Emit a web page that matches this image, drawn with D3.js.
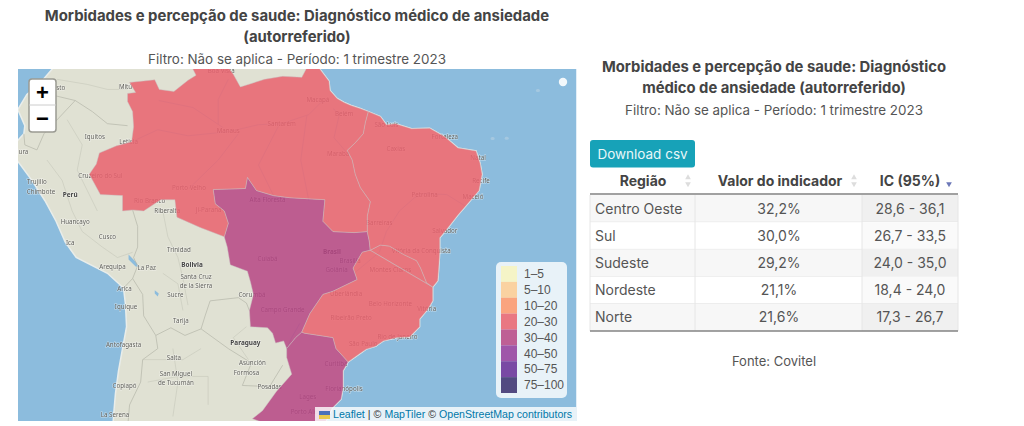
<!DOCTYPE html>
<html lang="pt">
<head>
<meta charset="utf-8">
<title>Diagnóstico médico de ansiedade</title>
<script src="https://cdn.jsdelivr.net/npm/d3@7"></script>
<style>
  html, body { margin: 0; padding: 0; background: #fff; }
  svg { display: block; font-family: Inter, "Noto Sans", sans-serif; }
  .map-label { font-family: "Noto Sans", sans-serif; font-size: 6.2px; fill: #5f5f5a; text-anchor: middle;
    stroke: #fff; stroke-width: 1.2px; stroke-opacity: .45; paint-order: stroke; }
  .map-label.country { font-weight: 700; font-size: 6.4px; fill: #444; }
</style>
</head>
<body>
<svg id="chart" width="1024" height="426"></svg>
<script>
// indicador por região
const regioes = ['Centro Oeste', 'Sul', 'Sudeste', 'Nordeste', 'Norte'];
const valores = [32.2, 30.0, 29.2, 21.1, 21.6];
const icInferior = [28.6, 26.7, 24.0, 18.4, 17.3];
const icSuperior = [36.1, 33.5, 35.0, 24.0, 26.7];

// legenda
const faixas = ['1–5', '5–10', '10–20', '20–30', '30–40', '40–50', '50–75', '75–100'];
const limites = [5, 10, 20, 30, 40, 50, 75];
const cores = ['#f7f5be', '#fdcd92', '#fd976a', '#e9616d', '#b64584', '#923b9b', '#652c95', '#372d6c'];

// contornos em lon/lat
const norteOeste = [[-73.8,-7.4],[-73.1,-6.4],[-72.8,-5.3],[-71.1,-4.6],[-69.6,-4.2],[-69.4,-2.7],[-69.5,-1.2],[-70,-0.2],[-70,0.6],[-69.2,0.7],[-69.8,1.7],[-67.3,1.95],[-66.85,1],[-65.4,0.8],[-64,1.9],[-63.2,2.4],[-64,4],[-64.2,4.2],[-61,5.2],[-60,5.1],[-60,3.2],[-59.5,2.5],[-58.8,1.25],[-56.4,2],[-54.6,2.3],[-52.7,2.2],[-51.7,4.1],[-51.2,4.3]];
const costaNorte = [[-51.2,4.3],[-50.9,3],[-50,1.8],[-49.9,0.9],[-49.2,0.1],[-48.5,-0.3],[-47.8,-0.6],[-46.9,-0.9],[-46.1,-1.2]];
const limiteNorteNordeste = [[-46.1,-1.2],[-46.4,-2.3],[-46.6,-3.4],[-47.4,-4.3],[-48.2,-5.05],[-47.7,-6],[-47.4,-7.4],[-46.9,-8.7],[-45.9,-10.1],[-46.2,-11.5],[-46.2,-13]];
const limiteNorteCentroOeste = [[-46.2,-13],[-47.5,-13.1],[-49.6,-13],[-50.6,-12],[-50.4,-9.9],[-53.9,-9.7],[-55.5,-9.5],[-57.2,-9],[-58.1,-7.7],[-58.3,-8.8],[-61.5,-8.9],[-61.3,-10.3],[-60.4,-11],[-60,-12.2],[-60.4,-13.5]];
const norteSudoeste = [[-60.4,-13.5],[-62.8,-12.6],[-65.1,-11.6],[-65.3,-9.9],[-66.7,-9.9],[-68.4,-11],[-69.5,-10.9],[-70.5,-11],[-70.5,-9.5],[-72.7,-9.4],[-73.8,-7.4]];
const costaNordeste = [[-46.1,-1.2],[-44.9,-1.7],[-44.3,-2.5],[-43.4,-2.4],[-41.8,-2.9],[-40,-2.85],[-38.5,-3.7],[-37.2,-4.8],[-35.4,-5.1],[-35,-6.3],[-34.8,-7.4],[-35.1,-9],[-36.4,-10.5],[-37.2,-11.4],[-38.4,-12.9],[-39,-13.6],[-39,-15],[-39.1,-16.5],[-39.2,-17.7],[-39.7,-18.3]];
const limiteNordesteSudeste = [[-39.7,-18.3],[-40.3,-17.9],[-40.9,-16.5],[-41.3,-15.8],[-42.6,-15.2],[-44,-14.4],[-44.9,-14.3],[-45.9,-14.8]];
const limiteNordesteCentroOeste = [[-45.9,-14.8],[-46,-13.9],[-46.2,-13]];
const limiteCentroOesteSudeste = [[-45.9,-14.8],[-46.7,-15],[-47.6,-16.5],[-47.2,-17.6],[-49.6,-18.7],[-50.6,-19],[-51.9,-20.8],[-52.7,-22.5]];
const costaSudeste = [[-39.7,-18.3],[-39.7,-19.6],[-40.2,-20.4],[-41,-21.3],[-41,-22],[-42,-22.95],[-43.2,-23],[-44.6,-23.3],[-45.4,-23.8],[-46.3,-24.05],[-47,-24.5],[-48.1,-25.2]];
const limiteSudesteSul = [[-52.7,-22.5],[-52.4,-22.6],[-50.6,-22.85],[-49.6,-23],[-49.3,-24],[-48.6,-24.7],[-48.1,-25.2]];
const costaSul = [[-48.1,-25.2],[-48.6,-26],[-48.6,-27.5],[-48.8,-28.5],[-49.7,-29.3],[-50.3,-30.4],[-51.3,-31.8],[-52.5,-33]];
const sulOeste = [[-52.5,-33],[-53.4,-33.7],[-55,-31],[-57.6,-30.2],[-56.6,-29.5],[-55.2,-27.8],[-53.7,-26.3],[-54.2,-24.8],[-54.2,-24]];
const limiteCentroOesteSul = [[-52.7,-22.5],[-53.3,-23],[-54.2,-24]];
const centroOesteSudoeste = [[-54.2,-24],[-54.5,-23.3],[-55.3,-23.5],[-55.6,-22.6],[-56.1,-22.1],[-57.8,-22],[-57.9,-20.5],[-57.5,-19],[-57.8,-17.8],[-58.1,-16.8],[-59.8,-16.2],[-60.1,-14.5],[-60.4,-13.5]];
const costaOeste = [[-77.5,8],[-77.5,3],[-78.8,1.5],[-80,0.5],[-80.9,-1],[-80.2,-2.6],[-80.3,-3.4],[-81.3,-4.5],[-81,-6],[-79.5,-8],[-78.2,-10],[-77.1,-12],[-76.2,-14],[-75.1,-15.5],[-72,-17],[-70.4,-18.4],[-70.2,-20],[-70.1,-22],[-70.5,-24],[-70.9,-26],[-71.2,-28],[-71.4,-30],[-71.6,-33]];

const rev = a => a.slice().reverse();

const contornos = {
  'Norte': [...norteOeste, ...costaNorte, ...limiteNorteNordeste, ...limiteNorteCentroOeste, ...norteSudoeste],
  'Nordeste': [...costaNordeste, ...limiteNordesteSudeste, ...limiteNordesteCentroOeste, ...rev(limiteNorteNordeste)],
  'Centro Oeste': [...rev(limiteNorteCentroOeste), ...rev(limiteNordesteCentroOeste), ...limiteCentroOesteSudeste, ...limiteCentroOesteSul, ...centroOesteSudoeste],
  'Sudeste': [...rev(limiteNordesteSudeste), ...limiteCentroOesteSudeste, ...limiteSudesteSul, ...rev(costaSudeste)],
  'Sul': [...limiteSudesteSul, ...costaSul, ...sulOeste, ...rev(limiteCentroOesteSul)]
};
const terra = [...costaOeste, [-52,-36], ...rev(costaSul), ...rev(costaSudeste), ...rev(costaNordeste), ...rev(costaNorte), [-50,8]];

const fronteiras = [
  [[-78.8,1.4],[-77.3,0.4],[-75.2,-0.1]],
  [[-80.3,-3.4],[-80.2,-4.5],[-79,-5],[-78.3,-3.4],[-75.2,-0.1],[-73.5,-1.2],[-72,-2.4],[-70,-2.6]],
  [[-69.5,-10.9],[-69,-12.5],[-69,-14.5],[-69.4,-15.5],[-69,-16.3],[-69.5,-17.5],[-70.4,-18.4]],
  [[-69.5,-17.5],[-68.5,-19],[-68.4,-21],[-67.2,-22.8],[-67,-24],[-68.5,-25],[-68.7,-27],[-69.8,-29],[-70,-31]],
  [[-67.2,-22.8],[-65.7,-22.1],[-64.3,-22.8],[-62.7,-22.2],[-62.3,-21],[-61.8,-19.6],[-59,-19.3],[-58.2,-19.8],[-57.9,-20.5]],
  [[-62.7,-22.2],[-60,-24],[-57.7,-25.3],[-58.6,-27.3],[-55.9,-27.4],[-54.6,-25.5]]
];
const divisas = [
  [[-77,2],[-74,1.5],[-72,1],[-70,1]], [[-76,-2],[-74.5,-4.5],[-75,-7],[-74,-9],[-73,-11]],
  [[-78,-6],[-76.5,-8],[-75.5,-11],[-74.5,-13],[-72.5,-14.5]], [[-72.5,-14.5],[-71,-15.5],[-69.5,-15]],
  [[-66.5,-11],[-66,-13.5],[-65,-15.5],[-64.5,-17.5],[-64,-20]], [[-66.5,-17],[-65,-18],[-64.5,-20.5]],
  [[-68,-27],[-65,-26.5],[-62,-26.5],[-62,-29]], [[-65.5,-24],[-65,-27],[-65.5,-30]],
  [[-58.2,-22],[-59.5,-23],[-58,-25]], [[-68.5,-25],[-64.5,-25],[-62.7,-24]]
];
const rios = [
  [[-69.6,-4.2],[-67,-3],[-64,-3.6],[-60,-3.2],[-57,-2.5],[-54.7,-2.4],[-52,-1.5],[-50.8,-0.3],[-50,-0.1]],
  [[-66.9,-0.1],[-63.5,-0.8],[-60.5,-2.8]], [[-60,2],[-61,0],[-61,-2.5]], [[-63.9,-8.8],[-61,-6],[-59,-3.4]],
  [[-55.5,-9.5],[-57,-6.5],[-55,-2.6]], [[-52,-10],[-52.8,-6],[-52.2,-1.6]],
  [[-49,-1.6],[-49.5,-3.8],[-48.2,-5.3]], [[-49.6,-0.9],[-49,-1.4],[-48.5,-1.3]],
  [[-47.5,-17],[-45,-15],[-44.3,-13],[-43,-11],[-41.5,-9.7],[-40.5,-9.3],[-38.3,-9.4],[-36.5,-10.5]],
  [[-52.9,-21.7],[-53.7,-23],[-54.2,-24]]
];
const lagos = [
  [[-69.9,-15.2],[-69.2,-15.9],[-68.8,-16.4],[-69.2,-16.35],[-69.9,-15.7]],
  [[-67.3,-18.6],[-66.9,-18.9],[-67,-19.2],[-67.3,-18.9]]
];
const ilhotas = [[-32.4,-3.85],[-33.8,-3.87],[-29.3,0.9]];

const cidades = [
  ['Boa Vista',-60.7,2.8],['Mitú',-70.2,1.25],['Pasto',-77,1.2],['Manaus',-60,-3.1],['Santarém',-54.7,-2.4],['Macapá',-51.1,0],
  ['Belém',-48.5,-1.45],['São Luís',-44.3,-2.55],['Fortaleza',-38.5,-3.72],['Natal',-35.2,-5.8],['Recife',-34.9,-8.05],['Maceió',-35.7,-9.65],
  ['Salvador',-38.5,-12.97],['Marabá',-49.1,-5.35],['Caxias',-43.36,-4.86],['Petrolina',-40.5,-9.4],['Barreiras',-45,-12.15],['Vitória da Conquista',-40.84,-14.86],
  ['Iquitos',-73.25,-3.75],['Leticia',-69.9,-4.2],['Cruzeiro do Sul',-72.7,-7.6],['Porto Velho',-63.9,-8.76],['Rio Branco',-67.8,-10],['Riberalta',-66.05,-11],
  ['Ji-Paraná',-61.95,-10.9],['Alta Floresta',-56.1,-9.9],['Trujillo',-79,-8.1],['Chimbote',-78.6,-9.1],['Piura',-80.6,-5.2],['Huancayo',-75.2,-12.05],['Ica',-75.7,-14.05],
  ['Cusco',-72,-13.5],['Arequipa',-71.5,-16.4],['La Paz',-68.1,-16.5],['Trinidad',-64.9,-14.8],['Sucre',-65.25,-19.05],['Tarija',-64.7,-21.5],
  ['Arica',-70.3,-18.5],['Iquique',-70.15,-20.2],['Antofagasta',-70.4,-23.65],['Copiapó',-70.3,-27.35],['La Serena',-71.25,-29.9],['Salta',-65.4,-24.8],
  ['Santa Cruz',-63.2,-17.3],['de la Sierra',-63.2,-18.15],['San Miguel',-65.2,-26.3],['de Tucumán',-65.2,-27.1],['Asunción',-57.6,-25.3],['Formosa',-58.2,-26.2],['Posadas',-55.9,-27.4],
  ['Corumbá',-57.65,-19],['Cuiabá',-56.1,-15.6],['Campo Grande',-54.6,-20.45],['Brasília',-47.9,-15.8],['Goiânia',-49.25,-16.7],['Montes Claros',-43.9,-16.7],
  ['Uberlândia',-48.3,-18.9],['Belo Horizonte',-43.9,-19.9],['Ribeirão Preto',-47.8,-21.2],['São Paulo',-46.6,-23.55],['Rio de Janeiro',-43.2,-22.9],['Vitória',-40.3,-20.3],
  ['Curitiba',-49.3,-25.4],['Florianópolis',-48.5,-27.6],['Lages',-52.1,-28.3],['Porto Alegre',-52,-29.6]
];
const paises = [['Perú',-75.7,-9.4],['Bolivia',-63.6,-16.2],['Paraguay',-58.3,-23.5],['Brasil',-49.7,-14.9]];

const colunas = ['Região', 'Valor do indicador', 'IC (95%)'];
const tituloEsq = ['Morbidades e percepção de saude: Diagnóstico médico de ansiedade', '(autorreferido)'];
const tituloDir = ['Morbidades e percepção de saude: Diagnóstico', 'médico de ansiedade (autorreferido)'];
const filtro = 'Filtro: Não se aplica - Período: 1 trimestre 2023';
const atribuicao = [['Leaflet', '#0078a8'], ['|', '#333'], ['©', '#333'], ['MapTiler', '#0078a8'], ['©', '#333'], ['OpenStreetMap contributors', '#0078a8']];

const svg = d3.select('#chart');
const numero = v => d3.format('.1f')(v).replace('.', ',');
const corValor = d3.scaleThreshold().domain(limites).range(cores);

drawHeading(297, [16, 37], 59, tituloEsq, 14.9, 13.4);
drawMap();
drawHeading(774, [67, 88], 110, tituloDir, 14.8, 13.4);
drawTable();

svg.append('text').attr('x', 774).attr('y', 361).attr('dy', '.35em').attr('text-anchor', 'middle')
  .attr('fill', '#555').attr('font-size', 13).text('Fonte: Covitel');

function drawHeading(cx, ys, ySub, lines, size, subSize) {
  const g = svg.append('g').attr('text-anchor', 'middle');
  g.selectAll('text.t').data(lines).join('text').attr('class', 't')
    .attr('x', cx).attr('y', (d, i) => ys[i]).attr('dy', '.35em')
    .attr('font-size', size).attr('font-weight', 700).attr('fill', '#444').text(d => d);
  g.append('text').attr('x', cx).attr('y', ySub).attr('dy', '.35em')
    .attr('font-size', subSize).attr('fill', '#555').text(filtro);
}

function drawMap() {
  const mapX = 18, mapY = 69, mapW = 558.5, mapH = 352;
  const projection = d3.geoMercator().scale(577).translate([832.5, 99.5]);
  const line = d3.line();
  const ring = pts => line(pts.map(projection)) + 'Z';
  const open = pts => line(pts.map(projection));

  svg.append('clipPath').attr('id', 'map-clip').append('rect')
    .attr('x', mapX).attr('y', mapY).attr('width', mapW).attr('height', mapH);

  const map = svg.append('g').attr('clip-path', 'url(#map-clip)');
  map.append('rect').attr('x', mapX).attr('y', mapY).attr('width', mapW).attr('height', mapH).attr('fill', '#8cbcdd');

  const base = map.append('g').style('filter', 'blur(0.35px)');
  base.append('path').attr('d', ring(terra)).attr('fill', '#e0e1d3').attr('stroke', '#e9edea').attr('stroke-width', 1.5);
  base.selectAll('path.lago').data(lagos).join('path').attr('class', 'lago').attr('d', ring).attr('fill', '#8cbcdd');
  base.selectAll('path.ilhota').data(ilhotas).join('path').attr('class', 'ilhota')
    .attr('d', d => `M${projection(d)}h1`).attr('stroke', '#a5c8e0').attr('stroke-width', 3).attr('stroke-linecap', 'round');
  base.selectAll('path.rio').data(rios).join('path').attr('class', 'rio').attr('d', open)
    .attr('fill', 'none').attr('stroke', '#aac6d8').attr('stroke-width', .9);
  base.selectAll('path.divisa').data(divisas).join('path').attr('class', 'divisa').attr('d', open)
    .attr('fill', 'none').attr('stroke', '#c6c8bb').attr('stroke-width', .6);
  base.selectAll('path.fronteira').data(fronteiras).join('path').attr('class', 'fronteira').attr('d', open)
    .attr('fill', 'none').attr('stroke', '#b5b6a9').attr('stroke-width', .7);
  base.selectAll('text.cidade').data(cidades).join('text').attr('class', 'map-label')
    .attr('x', d => projection([d[1], d[2]])[0]).attr('y', d => projection([d[1], d[2]])[1]).attr('dy', '.35em').text(d => d[0]);
  base.selectAll('text.pais').data(paises).join('text').attr('class', 'map-label country')
    .attr('x', d => projection([d[1], d[2]])[0]).attr('y', d => projection([d[1], d[2]])[1]).attr('dy', '.35em').text(d => d[0]);

  const dados = regioes.map((r, i) => ({regiao: r, valor: valores[i]}));
  base.selectAll('path.regiao').data(dados).join('path').attr('class', 'regiao')
    .attr('d', d => ring(contornos[d.regiao]))
    .attr('fill', d => corValor(d.valor)).attr('fill-opacity', .85)
    .attr('stroke', '#c9bfc0').attr('stroke-opacity', .45).attr('stroke-width', 1);

  // ponto branco do canto
  map.append('circle').attr('cx', 563).attr('cy', 82).attr('r', 4.2).attr('fill', '#f3f8fb');

  drawZoomControl(map);
  drawLegend(map);
  drawAttribution(map, mapX + mapW, mapY + mapH);
}

function drawZoomControl(map) {
  const g = map.append('g').attr('transform', 'translate(29,79)');
  g.append('rect').attr('width', 27).attr('height', 53).attr('rx', 3).attr('fill', '#fff')
    .attr('stroke', '#9a9a92').attr('stroke-width', 1.5);
  g.append('line').attr('x1', 0).attr('x2', 27).attr('y1', 26).attr('y2', 26).attr('stroke', '#ccc');
  g.selectAll('text').data(['+', '−']).join('text').attr('x', 13.5).attr('y', (d, i) => 13 + i * 26.5).attr('dy', '.36em')
    .attr('text-anchor', 'middle').attr('font-family', '"Liberation Sans", sans-serif')
    .attr('font-weight', 700).attr('font-size', 22).attr('fill', '#000').text(d => d);
}

function drawLegend(map) {
  const g = map.append('g').attr('transform', 'translate(496,262)');
  g.append('rect').attr('width', 71).attr('height', 136).attr('rx', 5).attr('fill', '#fff').attr('fill-opacity', .8);
  const y = d3.scaleBand().domain(faixas).range([4, 131]);
  g.selectAll('rect.faixa').data(faixas).join('rect').attr('class', 'faixa')
    .attr('x', 5).attr('width', 16).attr('y', d => y(d)).attr('height', y.bandwidth())
    .attr('fill', (d, i) => cores[i]).attr('fill-opacity', .85);
  g.selectAll('text').data(faixas).join('text')
    .attr('x', 28).attr('y', d => y(d) + y.bandwidth() / 2).attr('dy', '.35em')
    .attr('font-family', '"Liberation Sans", sans-serif').attr('font-size', 12).attr('fill', '#555').text(d => d);
}

function drawAttribution(map, right, bottom) {
  const g = map.append('g');
  g.append('rect').attr('x', 315).attr('y', bottom - 14).attr('width', right - 315).attr('height', 14)
    .attr('fill', '#fff').attr('fill-opacity', .8);
  g.append('rect').attr('x', 319).attr('y', bottom - 10).attr('width', 11).attr('height', 4).attr('fill', '#4d71b8');
  g.append('rect').attr('x', 319).attr('y', bottom - 6).attr('width', 11).attr('height', 4).attr('fill', '#ecc94b');
  // cada parte é um texto próprio, posto logo depois da anterior
  let x = 333;
  atribuicao.forEach(([parte, cor]) => {
    const t = g.append('text').attr('x', x).attr('y', bottom - 7).attr('dy', '.35em')
      .attr('font-family', '"Liberation Sans", sans-serif').attr('font-size', 10.6).attr('fill', cor).text(parte);
    x += t.node().getComputedTextLength() + 3;
  });
}

function drawTable() {
  // botão
  const btn = svg.append('g').attr('transform', 'translate(590,140)');
  btn.append('rect').attr('width', 105).attr('height', 27.5).attr('rx', 3).attr('fill', '#17a2b8');
  btn.append('text').attr('x', 52.5).attr('y', 14).attr('dy', '.35em').attr('text-anchor', 'middle')
    .attr('fill', '#e8f7f9').attr('font-size', 13.5).text('Download csv');

  const left = 590, right = 958, cols = [left, 695, 862, right];
  const y = d3.scaleBand().domain(regioes).range([195, 331]);
  const centers = [643, 780, 910];

  const head = svg.append('g').attr('font-size', 14).attr('font-weight', 700).attr('fill', '#444');
  head.selectAll('text').data(colunas).join('text').attr('x', (d, i) => centers[i]).attr('y', 181).attr('dy', '.35em')
    .attr('text-anchor', 'middle').text(d => d);

  // setas de ordenação
  const seta = d3.symbol().type(d3.symbolTriangle).size(14);
  const sortX = [688, 854];
  sortX.forEach(x => {
    svg.append('path').attr('d', seta()).attr('transform', `translate(${x},177.5)`).attr('fill', '#ddd');
    svg.append('path').attr('d', seta()).attr('transform', `translate(${x},184) rotate(180)`).attr('fill', '#ddd');
  });
  svg.append('path').attr('d', seta()).attr('transform', 'translate(949,184) rotate(180)').attr('fill', '#6c78b8');

  svg.append('line').attr('x1', left).attr('x2', right).attr('y1', 194).attr('y2', 194).attr('stroke', '#444').attr('stroke-width', 1.2);

  const rows = svg.selectAll('g.row').data(regioes).join('g').attr('class', 'row');
  rows.append('rect').attr('x', left).attr('width', right - left).attr('y', d => y(d)).attr('height', y.bandwidth())
    .attr('fill', (d, i) => i % 2 ? '#fff' : '#f7f7f7');
  rows.append('rect').attr('x', cols[2]).attr('width', right - cols[2]).attr('y', d => y(d)).attr('height', y.bandwidth())
    .attr('fill', (d, i) => i % 2 ? '#fafafa' : '#f0f0f0');
  rows.append('line').attr('x1', left).attr('x2', right).attr('y1', d => y(d) + y.bandwidth()).attr('y2', d => y(d) + y.bandwidth())
    .attr('stroke', '#e2e2e2');

  cols.forEach(x => {
    svg.append('line').attr('x1', x).attr('x2', x).attr('y1', 195).attr('y2', 331).attr('stroke', '#e6e6e6');
  });

  const texto = rows.append('g').attr('font-size', 14).attr('fill', '#555');
  const my = d => y(d) + y.bandwidth() / 2;
  texto.append('text').attr('x', 595).attr('y', my).attr('dy', '.35em').text(d => d);
  texto.append('text').attr('x', 779).attr('y', my).attr('dy', '.35em').attr('text-anchor', 'middle')
    .text((d, i) => numero(valores[i]) + '%');
  texto.append('text').attr('x', 910).attr('y', my).attr('dy', '.35em').attr('text-anchor', 'middle')
    .text((d, i) => numero(icInferior[i]) + ' - ' + numero(icSuperior[i]));

  svg.append('line').attr('x1', left).attr('x2', right).attr('y1', 331).attr('y2', 331).attr('stroke', '#555').attr('stroke-width', 1.2);
}
</script>
</body>
</html>
